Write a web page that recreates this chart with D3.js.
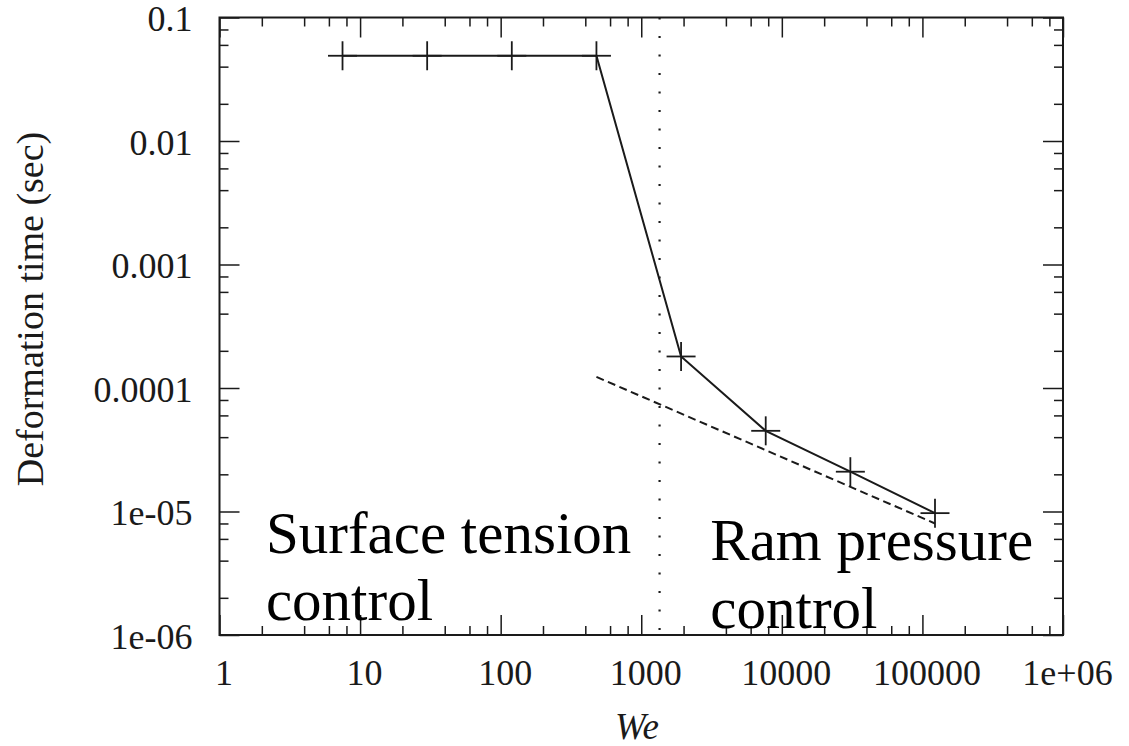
<!DOCTYPE html>
<html>
<head>
<meta charset="utf-8">
<script src="https://cdn.jsdelivr.net/npm/d3@7"></script>
<style>
  html, body { margin: 0; padding: 0; background: #fff; }
  svg { display: block; }
  text { font-family: "Liberation Serif", "Times New Roman", serif; fill: #1a1a1a; }
</style>
</head>
<body>
<svg id="chart" width="1129" height="746"></svg>
<script>
// Weber number samples and measured deformation times
const weber = [7.5, 30, 120, 480, 1920, 7680, 30720, 122880];
const deformTime = [0.049, 0.049, 0.049, 0.049, 1.8e-4, 4.5e-5, 2.1e-5, 9.7e-6];

// Ram-pressure asymptote (t ~ We^-1/2), drawn dashed
const asymptoteWe = [480, 122880];
const asymptoteT = [1.23e-4, 8.0e-6];

// Regime boundary (vertical dotted line)
const boundaryWe = [1350];

// Axis ticks and labels
const xTicks = [1, 10, 100, 1000, 10000, 100000, 1e6];
const xTickLabels = ["1", "10", "100", "1000", "10000", "100000", "1e+06"];
const yTicks = [1e-6, 1e-5, 1e-4, 1e-3, 1e-2, 1e-1];
const yTickLabels = ["1e-06", "1e-05", "0.0001", "0.001", "0.01", "0.1"];
const minorMultipliers = [2, 4, 6, 8];

// Regime annotations (anchored at the first line's baseline)
const regionLabels = [
  { lines: ["Surface tension", "control"], we: 2.14, t: 4.6e-6, lead: 67 },
  { lines: ["Ram pressure", "control"], we: 3100, t: 4.05e-6, lead: 68 }
];

const ink = "#1a1a1a";
const margin = { left: 219.5, top: 17.5, right: 66, bottom: 111 };
const W = 1129, H = 746;
const innerW = W - margin.left - margin.right;
const innerH = H - margin.top - margin.bottom;

const svg = d3.select("#chart");
const g = svg.append("g").attr("transform", `translate(${margin.left},${margin.top})`);

const x = d3.scaleLog().domain([1, 1e6]).range([0, innerW]);
const y = d3.scaleLog().domain([1e-6, 0.1]).range([innerH, 0]);

const minorOf = (ticks) => ticks.slice(0, -1).flatMap(t => minorMultipliers.map(m => t * m));
const xMinor = minorOf(xTicks);
const yMinor = minorOf(yTicks);

function styleAxis(sel) {
  sel.select(".domain").remove();
  sel.selectAll("line").attr("stroke", ink).attr("stroke-width", 1.5);
}

// Major + minor ticks on all four sides, pointing inward
const axes = [
  { make: d3.axisBottom, scale: x, ticks: xTicks, minor: xMinor, tf: `translate(0,${innerH})` },
  { make: d3.axisTop, scale: x, ticks: xTicks, minor: xMinor, tf: `translate(0,0)` },
  { make: d3.axisLeft, scale: y, ticks: yTicks, minor: yMinor, tf: `translate(0,0)` },
  { make: d3.axisRight, scale: y, ticks: yTicks, minor: yMinor, tf: `translate(${innerW},0)` }
];
axes.forEach(a => {
  g.append("g").attr("transform", a.tf)
    .call(a.make(a.scale).tickValues(a.ticks).tickSizeInner(-20).tickSizeOuter(0).tickFormat(""))
    .call(styleAxis);
  g.append("g").attr("transform", a.tf)
    .call(a.make(a.scale).tickValues(a.minor).tickSizeInner(-9).tickSizeOuter(0).tickFormat(""))
    .call(styleAxis);
});

// Tick labels
const xLabelAxis = g.append("g").attr("transform", `translate(0,${innerH})`)
  .call(d3.axisBottom(x).tickValues(xTicks).tickSize(0).tickPadding(24)
    .tickFormat((d, i) => xTickLabels[i]));
xLabelAxis.select(".domain").remove();
xLabelAxis.selectAll("text")
  .attr("font-family", "Liberation Serif, Times New Roman, serif")
  .attr("font-size", 36).attr("fill", ink).attr("dx", 4);

const yLabelAxis = g.append("g")
  .call(d3.axisLeft(y).tickValues(yTicks).tickSize(0).tickPadding(27)
    .tickFormat((d, i) => yTickLabels[i]));
yLabelAxis.select(".domain").remove();
yLabelAxis.selectAll("text")
  .attr("font-family", "Liberation Serif, Times New Roman, serif")
  .attr("font-size", 36).attr("fill", ink).attr("dy", "0.37em");

// Frame
g.append("rect")
  .attr("x", 0).attr("y", 0).attr("width", innerW).attr("height", innerH)
  .attr("fill", "none").attr("stroke", ink).attr("stroke-width", 2);

// Regime boundary
g.selectAll(".boundary").data(boundaryWe).enter().append("line")
  .attr("class", "boundary")
  .attr("x1", d => x(d)).attr("x2", d => x(d))
  .attr("y1", 0).attr("y2", innerH)
  .attr("stroke", ink).attr("stroke-width", 2.2)
  .attr("stroke-dasharray", "2 16.5");

// Asymptote
const pts = (xs, ys) => xs.map((v, i) => [v, ys[i]]);
const line = d3.line().x(d => x(d[0])).y(d => y(d[1]));
g.append("path")
  .attr("d", line(pts(asymptoteWe, asymptoteT)))
  .attr("fill", "none").attr("stroke", ink).attr("stroke-width", 2)
  .attr("stroke-dasharray", "8 4.5");

// Measured deformation time
const data = pts(weber, deformTime);
g.append("path")
  .attr("d", line(data))
  .attr("fill", "none").attr("stroke", ink).attr("stroke-width", 2);

const half = 14.5;
const marks = g.selectAll(".pt").data(data).enter().append("g")
  .attr("transform", d => `translate(${x(d[0])},${y(d[1])})`);
marks.append("line").attr("x1", -half).attr("x2", half).attr("y1", 0).attr("y2", 0)
  .attr("stroke", ink).attr("stroke-width", 1.8);
marks.append("line").attr("x1", 0).attr("x2", 0).attr("y1", -half).attr("y2", half)
  .attr("stroke", ink).attr("stroke-width", 1.8);

// Regime annotations
regionLabels.forEach(r => {
  const t = g.append("text")
    .attr("x", x(r.we)).attr("y", y(r.t))
    .attr("font-size", 59).style("fill", "#000");
  r.lines.forEach((s, i) => {
    t.append("tspan").attr("x", x(r.we)).attr("dy", i === 0 ? 0 : r.lead).text(s);
  });
});

// Axis titles
svg.append("text")
  .attr("x", 637).attr("y", 739)
  .attr("text-anchor", "middle")
  .attr("font-size", 37).attr("font-style", "italic")
  .text("We");

svg.append("text")
  .attr("transform", "translate(43,309) rotate(-90)")
  .attr("text-anchor", "middle")
  .attr("font-size", 38)
  .text("Deformation time (sec)");
</script>
</body>
</html>
